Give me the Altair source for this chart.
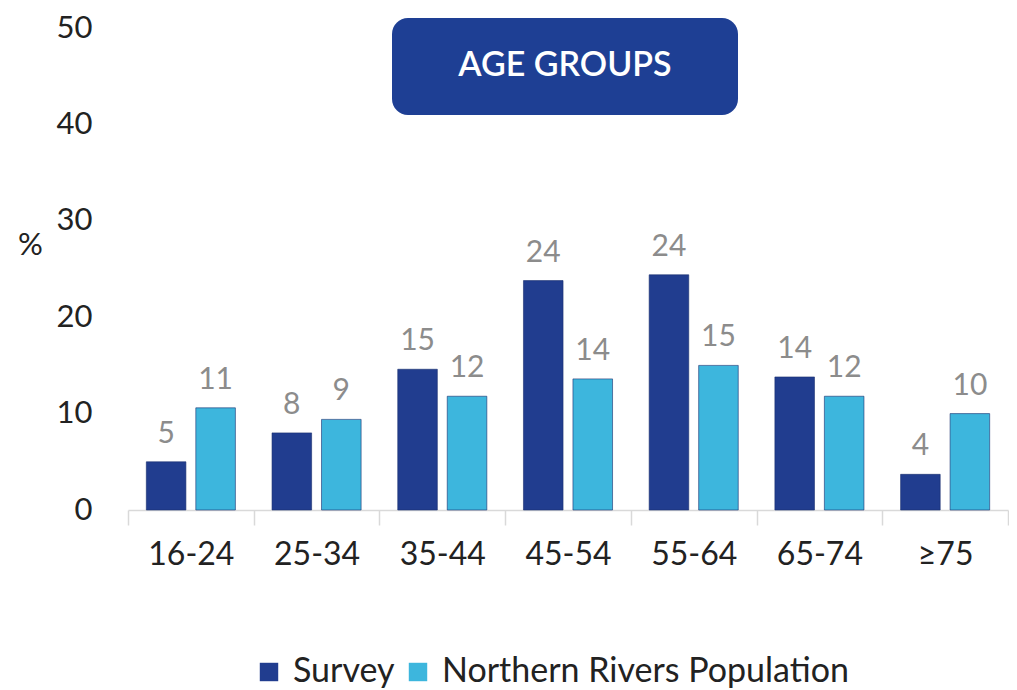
import altair as alt
import pandas as pd

categories = ["16-24", "25-34", "35-44", "45-54", "55-64", "65-74", "≥75"]
series = ["Survey", "Northern Rivers Population"]
survey_values = [5.0, 8.0, 14.6, 23.8, 24.4, 13.8, 3.7]
population_values = [10.6, 9.4, 11.8, 13.6, 15.0, 11.8, 10.0]
survey_labels = [5, 8, 15, 24, 24, 14, 4]
population_labels = [11, 9, 12, 14, 15, 12, 10]
colors = ["#213D8F", "#3DB6DD"]

rows = []
for i, c in enumerate(categories):
    rows.append({"age": c, "series": series[0], "value": survey_values[i], "label": str(survey_labels[i])})
    rows.append({"age": c, "series": series[1], "value": population_values[i], "label": str(population_labels[i])})
df = pd.DataFrame(rows)

FONT = "Lato"
W, H = 880, 482

xscale = alt.Scale(paddingInner=0, paddingOuter=0)
xoscale = alt.Scale(paddingInner=0.2, paddingOuter=0.37)

xenc = alt.X("age:N", sort=categories, scale=xscale,
             axis=alt.Axis(title=None, labelAngle=0, labelFontSize=32, labelColor="#222222",
                           labelFont=FONT, labelPadding=14, domainColor="#D9D9D9", domainWidth=1.5,
                           tickColor="#D9D9D9", tickSize=15, tickWidth=1.5, tickBand="extent"))
xoff = alt.XOffset("series:N", sort=series, scale=xoscale)
yenc = alt.Y("value:Q", scale=alt.Scale(domain=[0, 50], nice=False),
             axis=alt.Axis(title="%", titleAngle=0, titleFontSize=31, titleFont=FONT,
                           titleFontWeight="normal", titleColor="#222222", titleX=-98, titleY=217,
                           titleAlign="center", titleBaseline="middle",
                           values=[0, 10, 20, 30, 40, 50], labelFontSize=31, labelFont=FONT,
                           labelColor="#222222", labelPadding=36, ticks=False, domain=False,
                           grid=False))

bars = alt.Chart(df).mark_bar(stroke="#1A2F6E", strokeWidth=0.6).encode(
    x=xenc, xOffset=xoff, y=yenc,
    color=alt.Color("series:N", sort=series,
                    scale=alt.Scale(domain=series, range=colors),
                    legend=alt.Legend(title=None, orient="none", legendX=124, legendY=627,
                                      direction="horizontal", symbolType="square", symbolSize=340,
                                      symbolStrokeWidth=0, labelFontSize=34, labelFont=FONT,
                                      labelColor="#222222", columnPadding=6, labelOffset=7,
                                      labelLimit=0, symbolOpacity=1)),
)

labels = alt.Chart(df).mark_text(baseline="bottom", dy=-13, fontSize=30, font=FONT,
                                 color="#8C8C8C").encode(
    x=alt.X("age:N", sort=categories, scale=xscale),
    xOffset=alt.XOffset("series:N", sort=series, scale=xoscale),
    y="value:Q", text="label:N")

box = alt.Chart(pd.DataFrame({"t": ["AGE GROUPS"]})).mark_rect(
    color="#1E3F94", cornerRadius=16).encode(
    x=alt.value(264), x2=alt.value(610), y=alt.value(-10), y2=alt.value(87))

box_text = alt.Chart(pd.DataFrame({"t": ["AGE GROUPS"]})).mark_text(
    color="white", fontSize=34, font=FONT, fontWeight=600, align="center", baseline="middle").encode(
    x=alt.value(437), y=alt.value(38), text="t:N")

chart = alt.layer(bars, labels, box, box_text).properties(
    width=W, height=H,
    background="white",
    autosize=alt.AutoSizeParams(type="none"),
    padding={"left": 120, "top": 20, "right": 1, "bottom": 180},
).configure_view(stroke=None)

chart.save("out.html", embed_options={"renderer": "svg", "actions": False})
